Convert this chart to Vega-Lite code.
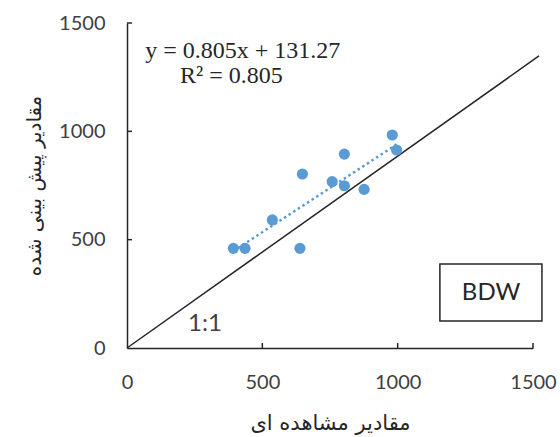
{
  "$schema": "https://vega.github.io/schema/vega-lite/v6.json",
  "width": 406,
  "height": 325,
  "autosize": {"type": "none"},
  "padding": {"left": 127, "top": 23, "right": 27, "bottom": 89},
  "background": "white",
  "config": {"view": {"stroke": null}},
  "datasets": {
    "pts": [
      {"obs": 393, "pred": 460},
      {"obs": 436, "pred": 460},
      {"obs": 537, "pred": 591},
      {"obs": 639, "pred": 460},
      {"obs": 648, "pred": 803},
      {"obs": 758, "pred": 768},
      {"obs": 803, "pred": 749},
      {"obs": 803, "pred": 895},
      {"obs": 876, "pred": 732},
      {"obs": 980, "pred": 983},
      {"obs": 996, "pred": 914}
    ],
    "oneone": [{"obs": 0, "pred": 0}, {"obs": 1522, "pred": 1348}],
    "xticks": [{"v": 500, "a": 0, "b": 23}, {"v": 1000, "a": 0, "b": 23}, {"v": 1500, "a": 0, "b": 23}],
    "yticks": [{"v": 500, "a": 0, "b": 18.5}, {"v": 1000, "a": 0, "b": 18.5}, {"v": 1500, "a": 0, "b": 18.5}],
    "box": [{"x": 1156, "x2": 1533, "y": 125, "y2": 388, "label": "BDW", "cx": 1345, "cy": 254}],
    "notes": [
      {"x": 67, "y": 1371, "t": "y = 0.805x + 131.27"},
      {"x": 196, "y": 1255, "t": "R² = 0.805"}
    ],
    "one": [{"x": 288, "y": 110, "t": "1:1"}]
  },
  "layer": [
    {
      "data": {"name": "oneone"},
      "mark": {"type": "line", "color": "#262626", "strokeWidth": 1.5, "clip": false},
      "encoding": {
        "x": {
          "field": "obs", "type": "quantitative",
          "scale": {"domain": [0, 1500], "nice": false},
          "axis": {
            "values": [0, 500, 1000, 1500],
            "format": "d",
            "grid": false,
            "domainColor": "#262626", "domainWidth": 1.5,
            "ticks": false,
            "labelFont": "Lato", "labelFontSize": 20, "labelColor": "#404040",
            "labelPadding": 24,
            "labelFlush": false,
            "title": "مقادیر مشاهده ای",
            "titleFont": "DejaVu Sans", "titleFontSize": 21, "titleFontWeight": "normal",
            "titleColor": "#262626", "titlePadding": 20
          }
        },
        "y": {
          "field": "pred", "type": "quantitative",
          "scale": {"domain": [0, 1500], "nice": false},
          "axis": {
            "values": [0, 500, 1000, 1500],
            "format": "d",
            "grid": false,
            "domainColor": "#262626", "domainWidth": 1.5,
            "ticks": false,
            "labelFont": "Lato", "labelFontSize": 20, "labelColor": "#404040",
            "labelPadding": 22,
            "labelFlush": false,
            "title": "مقادیر پیش بینی شده",
            "titleFont": "DejaVu Sans", "titleFontSize": 20, "titleFontWeight": "normal",
            "titleColor": "#262626", "titlePadding": 14
          }
        }
      }
    },
    {
      "data": {"name": "xticks"},
      "mark": {"type": "rule", "color": "#262626", "strokeWidth": 1.5},
      "encoding": {
        "x": {"field": "v", "type": "quantitative"},
        "y": {"field": "a", "type": "quantitative"},
        "y2": {"field": "b"}
      }
    },
    {
      "data": {"name": "yticks"},
      "mark": {"type": "rule", "color": "#262626", "strokeWidth": 1.5},
      "encoding": {
        "y": {"field": "v", "type": "quantitative"},
        "x": {"field": "a", "type": "quantitative"},
        "x2": {"field": "b"}
      }
    },
    {
      "data": {"name": "pts"},
      "mark": {"type": "circle", "color": "#5B9BD5", "opacity": 1, "size": 125},
      "encoding": {
        "x": {"field": "obs", "type": "quantitative"},
        "y": {"field": "pred", "type": "quantitative"}
      }
    },
    {
      "data": {"name": "pts"},
      "transform": [{"regression": "pred", "on": "obs"}],
      "mark": {"type": "line", "color": "#5B9BD5", "strokeWidth": 2.5, "strokeDash": [2.5, 3]},
      "encoding": {
        "x": {"field": "obs", "type": "quantitative"},
        "y": {"field": "pred", "type": "quantitative"}
      }
    },
    {
      "data": {"name": "box"},
      "mark": {"type": "rect", "fill": "white", "stroke": "#262626", "strokeWidth": 1.5, "clip": false},
      "encoding": {
        "x": {"field": "x", "type": "quantitative"},
        "x2": {"field": "x2"},
        "y": {"field": "y", "type": "quantitative"},
        "y2": {"field": "y2"}
      }
    },
    {
      "data": {"name": "box"},
      "mark": {"type": "text", "font": "Lato", "fontSize": 24, "color": "#262626", "align": "center", "baseline": "middle", "clip": false},
      "encoding": {
        "x": {"field": "cx", "type": "quantitative"},
        "y": {"field": "cy", "type": "quantitative"},
        "text": {"field": "label"}
      }
    },
    {
      "data": {"name": "notes"},
      "mark": {"type": "text", "font": "Liberation Serif", "fontSize": 24, "color": "#262626", "align": "left", "baseline": "middle"},
      "encoding": {
        "x": {"field": "x", "type": "quantitative"},
        "y": {"field": "y", "type": "quantitative"},
        "text": {"field": "t"}
      }
    },
    {
      "data": {"name": "one"},
      "mark": {"type": "text", "font": "Lato", "fontSize": 24, "color": "#404040", "align": "center", "baseline": "middle"},
      "encoding": {
        "x": {"field": "x", "type": "quantitative"},
        "y": {"field": "y", "type": "quantitative"},
        "text": {"field": "t"}
      }
    }
  ]
}
